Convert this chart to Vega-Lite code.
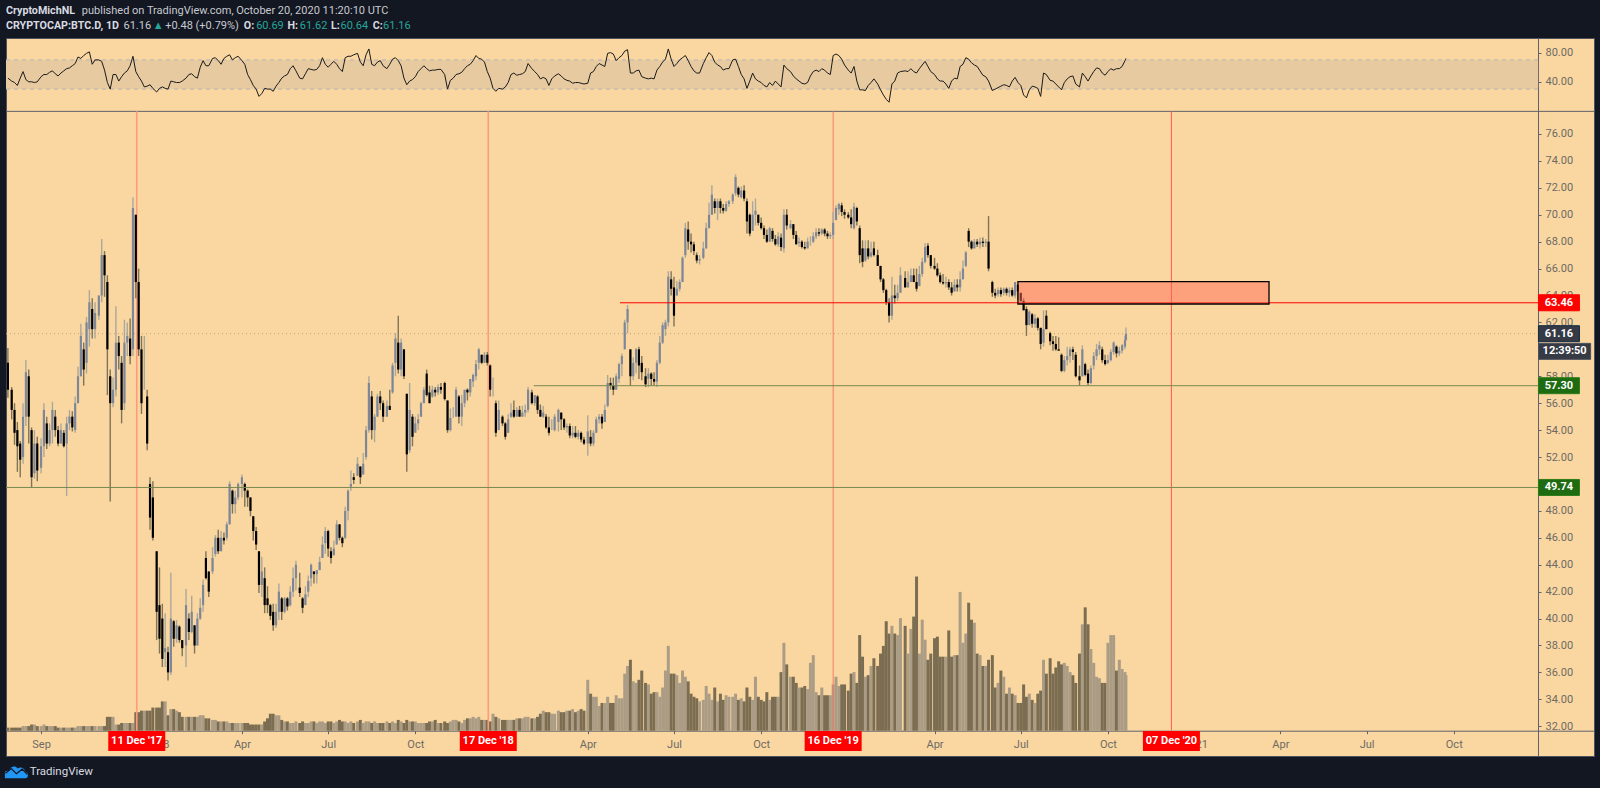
{"$schema":"https://vega.github.io/schema/vega-lite/v6.json","description":"BTC dominance daily chart with RSI and volume","width":1588,"height":718,"autosize":{"type":"none"},"padding":{"left":6,"top":38,"right":6,"bottom":32},"background":"#131722","view":{"fill":"#fad7a0","stroke":"#4c525e"},"config":{"text":{"font":"Roboto"},"axis":{"labelFont":"Roboto","labelFontSize":11,"labelColor":"#6d6a66","domainColor":"#5f626d","tickColor":"#5f626d","tickSize":3,"grid":false,"title":null}},
"datasets":{"rows":[
{"d":"2017-07-28","o":59,"c":57,"h":60.1,"l":56.4,"v":2,"r":45},
{"d":"2017-08-01","o":57,"c":55.5,"h":57.2,"l":54.8,"v":2,"r":41},{"d":"2017-08-04","o":55.5,"c":53.8,"h":56,"l":52.9,"v":2,"r":39},{"d":"2017-08-07","o":54,"c":52.8,"h":54.6,"l":50.9,"v":2,"r":35},{"d":"2017-08-10","o":53,"c":51.8,"h":53.2,"l":50.5,"v":2,"r":45},{"d":"2017-08-13","o":52,"c":55,"h":56,"l":51.5,"v":3,"r":54},{"d":"2017-08-16","o":55,"c":58.3,"h":59.2,"l":54.3,"v":3,"r":43},{"d":"2017-08-19","o":58,"c":55,"h":58.5,"l":53,"v":3,"r":40},{"d":"2017-08-22","o":54,"c":50.5,"h":54.2,"l":49.7,"v":4,"r":40},{"d":"2017-08-25","o":50.8,"c":53,"h":54,"l":50.4,"v":4,"r":39},{"d":"2017-08-28","o":53,"c":51,"h":53.5,"l":50.2,"v":3,"r":40},
{"d":"2017-09-01","o":51.2,"c":52.8,"h":53.4,"l":50.8,"v":3,"r":47},{"d":"2017-09-04","o":52.8,"c":55.5,"h":56,"l":52,"v":4,"r":50},{"d":"2017-09-07","o":54.5,"c":53,"h":55,"l":52.6,"v":3,"r":50},{"d":"2017-09-10","o":53,"c":54,"h":54.5,"l":52.8,"v":3,"r":53},{"d":"2017-09-13","o":54,"c":55.5,"h":56.1,"l":53,"v":3,"r":55},{"d":"2017-09-16","o":55,"c":54,"h":55.5,"l":53.5,"v":3,"r":51},{"d":"2017-09-19","o":54,"c":53,"h":54.3,"l":52.8,"v":2,"r":48},{"d":"2017-09-22","o":53,"c":54,"h":54.5,"l":53,"v":2,"r":52},{"d":"2017-09-25","o":53.8,"c":52.8,"h":54,"l":52.7,"v":2,"r":55},{"d":"2017-09-28","o":53,"c":54.5,"h":55,"l":49.1,"v":2,"r":58},
{"d":"2017-10-01","o":54.5,"c":55,"h":55.5,"l":54,"v":2,"r":59},{"d":"2017-10-04","o":55,"c":54.2,"h":55.4,"l":53.9,"v":2,"r":62},{"d":"2017-10-07","o":54,"c":56,"h":56.5,"l":53.8,"v":2,"r":65},{"d":"2017-10-10","o":56,"c":58,"h":58.7,"l":56,"v":3,"r":74},{"d":"2017-10-13","o":58,"c":61,"h":61.9,"l":58,"v":3,"r":72},{"d":"2017-10-16","o":60,"c":58.5,"h":60.5,"l":57.3,"v":3,"r":76},{"d":"2017-10-19","o":59,"c":62,"h":62.4,"l":58.2,"v":3,"r":79},{"d":"2017-10-22","o":61.5,"c":63.5,"h":64.4,"l":60.2,"v":3,"r":81},{"d":"2017-10-25","o":63,"c":61.5,"h":63.8,"l":60.8,"v":3,"r":64},{"d":"2017-10-28","o":61.5,"c":62.7,"h":63.5,"l":60.8,"v":3,"r":70},
{"d":"2017-11-01","o":62.5,"c":64,"h":64,"l":62.2,"v":3,"r":70},{"d":"2017-11-04","o":64,"c":67,"h":68.2,"l":63.5,"v":3,"r":68},{"d":"2017-11-07","o":67,"c":65.5,"h":67.3,"l":63.9,"v":3,"r":56},{"d":"2017-11-10","o":65,"c":60,"h":65.5,"l":56.6,"v":9,"r":39},{"d":"2017-11-13","o":58,"c":56,"h":58.5,"l":48.7,"v":9,"r":30},{"d":"2017-11-16","o":56,"c":57,"h":57.9,"l":55.7,"v":9,"r":50},{"d":"2017-11-19","o":57,"c":60.5,"h":63.2,"l":56.5,"v":4,"r":50},{"d":"2017-11-22","o":60.5,"c":59.5,"h":61,"l":58.5,"v":4,"r":41},{"d":"2017-11-25","o":59,"c":55.5,"h":59.5,"l":54.5,"v":5,"r":47},{"d":"2017-11-28","o":56,"c":60.5,"h":62.2,"l":55.5,"v":5,"r":52},
{"d":"2017-12-01","o":60.5,"c":61,"h":62,"l":59.5,"v":5,"r":55},{"d":"2017-12-04","o":60.8,"c":59.5,"h":62.3,"l":58.9,"v":5,"r":62},{"d":"2017-12-07","o":60,"c":70.5,"h":71.3,"l":59.5,"v":5,"r":75},{"d":"2017-12-10","o":70,"c":65,"h":70,"l":63.8,"v":12,"r":54},{"d":"2017-12-13","o":65,"c":60,"h":66,"l":59.5,"v":12,"r":47},{"d":"2017-12-16","o":60,"c":56,"h":61,"l":55.2,"v":13,"r":41},{"d":"2017-12-19","o":57.5,"c":57.5,"h":61,"l":57,"v":13,"r":33},{"d":"2017-12-22","o":56.5,"c":53,"h":57,"l":52.5,"v":13,"r":34},{"d":"2017-12-25","o":50,"c":47.5,"h":50.5,"l":46.6,"v":13,"r":36},{"d":"2017-12-28","o":49,"c":46,"h":50.2,"l":45.8,"v":15,"r":31},
{"d":"2018-01-01","o":45,"c":40.5,"h":45,"l":38.4,"v":15,"r":26},{"d":"2018-01-04","o":41,"c":38.5,"h":43.8,"l":37.4,"v":15,"r":31},{"d":"2018-01-07","o":40,"c":37,"h":41.1,"l":36.4,"v":19,"r":33},{"d":"2018-01-10","o":37.5,"c":37.8,"h":40.4,"l":36.4,"v":19,"r":31},{"d":"2018-01-13","o":37.5,"c":36,"h":37.9,"l":35.4,"v":10,"r":30},{"d":"2018-01-16","o":36,"c":40,"h":43.4,"l":35.8,"v":14,"r":41},{"d":"2018-01-19","o":39.8,"c":38.5,"h":39.9,"l":37.9,"v":14,"r":40},{"d":"2018-01-22","o":38.5,"c":39.5,"h":39.9,"l":38.2,"v":13,"r":39},{"d":"2018-01-25","o":39.4,"c":38.4,"h":39.5,"l":38.2,"v":12,"r":39},{"d":"2018-01-28","o":38.4,"c":37.8,"h":38.4,"l":37.2,"v":9,"r":41},
{"d":"2018-02-01","o":38,"c":41,"h":42.2,"l":36.4,"v":9,"r":45},{"d":"2018-02-04","o":40,"c":39,"h":40.4,"l":38.4,"v":9,"r":50},{"d":"2018-02-07","o":39,"c":40.5,"h":41.7,"l":38.9,"v":9,"r":51},{"d":"2018-02-10","o":39.5,"c":38,"h":39.5,"l":37.4,"v":9,"r":47},{"d":"2018-02-13","o":38,"c":40,"h":40.4,"l":38,"v":9,"r":45},{"d":"2018-02-16","o":40,"c":40.8,"h":41.5,"l":39.9,"v":10,"r":60},{"d":"2018-02-19","o":41,"c":42.5,"h":42.9,"l":40.5,"v":10,"r":69},{"d":"2018-02-22","o":44.5,"c":43,"h":45,"l":42.9,"v":8,"r":62},{"d":"2018-02-25","o":43.5,"c":42,"h":43.5,"l":41.6,"v":8,"r":62},
{"d":"2018-03-01","o":43.5,"c":44.5,"h":45.3,"l":43.3,"v":7,"r":72},{"d":"2018-03-04","o":44.8,"c":46,"h":46.2,"l":44.6,"v":7,"r":73},{"d":"2018-03-07","o":46,"c":45,"h":46.6,"l":44.8,"v":6,"r":69},{"d":"2018-03-10","o":45,"c":46,"h":46.5,"l":45,"v":6,"r":64},{"d":"2018-03-13","o":46,"c":45.8,"h":46.4,"l":45.5,"v":6,"r":72},{"d":"2018-03-16","o":46,"c":47,"h":47.2,"l":45.8,"v":6,"r":75},{"d":"2018-03-19","o":47,"c":50,"h":50.2,"l":47,"v":5,"r":77},{"d":"2018-03-22","o":49.5,"c":48.5,"h":49.6,"l":47.8,"v":5,"r":70},{"d":"2018-03-25","o":48.5,"c":49,"h":49.5,"l":47.8,"v":5,"r":73},{"d":"2018-03-28","o":49,"c":50,"h":50.1,"l":48.8,"v":5,"r":75},
{"d":"2018-04-01","o":50,"c":50.5,"h":50.7,"l":49,"v":5,"r":69},{"d":"2018-04-04","o":50,"c":49.5,"h":50.1,"l":48.3,"v":5,"r":64},{"d":"2018-04-07","o":49.5,"c":49,"h":49.6,"l":48.3,"v":5,"r":50},{"d":"2018-04-10","o":49,"c":48,"h":49,"l":47.6,"v":4,"r":43},{"d":"2018-04-13","o":47.6,"c":46.5,"h":47.6,"l":45.8,"v":4,"r":35},{"d":"2018-04-16","o":46.5,"c":45.5,"h":46.8,"l":45.1,"v":4,"r":30},{"d":"2018-04-19","o":45,"c":42.5,"h":45,"l":41.9,"v":4,"r":20},{"d":"2018-04-22","o":42.5,"c":43.5,"h":44.6,"l":41.6,"v":4,"r":24},{"d":"2018-04-25","o":43,"c":41,"h":43.8,"l":40.4,"v":6,"r":31},{"d":"2018-04-28","o":41.5,"c":41,"h":42.4,"l":40.4,"v":8,"r":30},
{"d":"2018-05-01","o":41,"c":40.2,"h":41.1,"l":39.9,"v":11,"r":30},{"d":"2018-05-04","o":40.5,"c":39.5,"h":41.1,"l":39.1,"v":11,"r":27},{"d":"2018-05-07","o":39.5,"c":40.5,"h":41.1,"l":39.3,"v":10,"r":34},{"d":"2018-05-10","o":40.5,"c":42,"h":42.6,"l":39.9,"v":10,"r":39},{"d":"2018-05-13","o":41.5,"c":40.5,"h":41.6,"l":39.9,"v":7,"r":45},{"d":"2018-05-16","o":40.5,"c":41.5,"h":41.6,"l":40.4,"v":6,"r":48},{"d":"2018-05-19","o":41.5,"c":40.9,"h":41.6,"l":40.6,"v":6,"r":50},{"d":"2018-05-22","o":41,"c":42,"h":42.4,"l":40.9,"v":5,"r":58},{"d":"2018-05-25","o":42,"c":43,"h":43.8,"l":41.6,"v":5,"r":62},{"d":"2018-05-28","o":43,"c":44,"h":44.3,"l":42.1,"v":6,"r":55},
{"d":"2018-06-01","o":42.3,"c":41.9,"h":43.4,"l":41.6,"v":5,"r":45},{"d":"2018-06-04","o":41.5,"c":40.8,"h":41.6,"l":40.4,"v":6,"r":44},{"d":"2018-06-07","o":41,"c":41.8,"h":42.4,"l":41,"v":5,"r":51},{"d":"2018-06-10","o":42,"c":42.8,"h":43.2,"l":41.6,"v":5,"r":58},{"d":"2018-06-13","o":43,"c":44,"h":44.1,"l":42.4,"v":6,"r":57},{"d":"2018-06-16","o":43.5,"c":43.3,"h":43.5,"l":42.6,"v":6,"r":56},{"d":"2018-06-19","o":43.3,"c":43.6,"h":43.6,"l":42.6,"v":5,"r":57},{"d":"2018-06-22","o":43.6,"c":44.2,"h":44.6,"l":43.6,"v":6,"r":62},{"d":"2018-06-25","o":44.5,"c":45.5,"h":46.1,"l":44.5,"v":6,"r":73},{"d":"2018-06-28","o":45.6,"c":46.5,"h":46.8,"l":44.8,"v":5,"r":64},
{"d":"2018-07-01","o":46.5,"c":45.2,"h":46.6,"l":44.6,"v":6,"r":60},{"d":"2018-07-04","o":45,"c":44.5,"h":45.3,"l":44.1,"v":6,"r":64},{"d":"2018-07-07","o":44.7,"c":45.2,"h":45.8,"l":44.7,"v":5,"r":68},{"d":"2018-07-10","o":45.5,"c":47,"h":47.3,"l":45.5,"v":6,"r":64},{"d":"2018-07-13","o":47,"c":46,"h":47,"l":45.8,"v":7,"r":58},{"d":"2018-07-16","o":46,"c":45.6,"h":46.1,"l":45.3,"v":6,"r":54},{"d":"2018-07-19","o":46,"c":48,"h":48.3,"l":45.9,"v":6,"r":73},{"d":"2018-07-22","o":48,"c":49.5,"h":49.6,"l":47.3,"v":5,"r":75},{"d":"2018-07-25","o":49.8,"c":50,"h":51,"l":49.5,"v":6,"r":75},{"d":"2018-07-28","o":50.5,"c":50.3,"h":50.8,"l":50,"v":5,"r":77},
{"d":"2018-08-01","o":50.6,"c":51.5,"h":52,"l":50.8,"v":6,"r":79},{"d":"2018-08-04","o":51.3,"c":50.5,"h":51.3,"l":50,"v":7,"r":67},{"d":"2018-08-07","o":50.7,"c":51.5,"h":52.3,"l":50.7,"v":5,"r":62},{"d":"2018-08-10","o":52,"c":54,"h":54.3,"l":51.8,"v":6,"r":77},{"d":"2018-08-13","o":54,"c":57.5,"h":58,"l":53.8,"v":6,"r":85},{"d":"2018-08-16","o":56.5,"c":54,"h":56.9,"l":53.3,"v":5,"r":64},{"d":"2018-08-19","o":54,"c":55,"h":55.2,"l":53.1,"v":6,"r":62},{"d":"2018-08-22","o":55,"c":56.5,"h":56.7,"l":55,"v":5,"r":67},{"d":"2018-08-25","o":56.5,"c":56,"h":56.9,"l":55.5,"v":5,"r":69},{"d":"2018-08-28","o":56,"c":55,"h":56.2,"l":54.6,"v":5,"r":62},
{"d":"2018-09-01","o":55,"c":55.8,"h":56.2,"l":55,"v":6,"r":58},{"d":"2018-09-04","o":55.8,"c":55.5,"h":57,"l":55.5,"v":5,"r":64},{"d":"2018-09-07","o":56.8,"c":58.8,"h":59,"l":56.7,"v":6,"r":71},{"d":"2018-09-10","o":59,"c":60.8,"h":61.2,"l":58,"v":5,"r":73},{"d":"2018-09-13","o":60.5,"c":58.5,"h":62.5,"l":58.2,"v":7,"r":69},{"d":"2018-09-16","o":58.5,"c":60.5,"h":60.8,"l":58,"v":6,"r":62},{"d":"2018-09-19","o":60,"c":58,"h":60,"l":57.8,"v":5,"r":45},{"d":"2018-09-22","o":56.7,"c":52.2,"h":56.7,"l":50.9,"v":7,"r":36},{"d":"2018-09-25","o":52.5,"c":55.5,"h":57.5,"l":52.3,"v":6,"r":41},{"d":"2018-09-28","o":55,"c":53.5,"h":55.2,"l":52.8,"v":6,"r":43},
{"d":"2018-10-01","o":53.8,"c":54.5,"h":55,"l":54,"v":6,"r":47},{"d":"2018-10-04","o":54.5,"c":54.8,"h":55.2,"l":54,"v":5,"r":54},{"d":"2018-10-07","o":55,"c":56,"h":56.1,"l":55,"v":5,"r":58},{"d":"2018-10-10","o":56,"c":57,"h":57.2,"l":56,"v":5,"r":62},{"d":"2018-10-13","o":58.2,"c":56.6,"h":58.5,"l":56.5,"v":5,"r":58},{"d":"2018-10-16","o":56.8,"c":56,"h":57.3,"l":56,"v":6,"r":55},{"d":"2018-10-19","o":56.5,"c":57,"h":57.3,"l":56.4,"v":6,"r":56},{"d":"2018-10-22","o":57,"c":56.8,"h":57.2,"l":56.5,"v":7,"r":56},{"d":"2018-10-25","o":56.8,"c":57.2,"h":57.4,"l":56.6,"v":5,"r":57},{"d":"2018-10-28","o":57.2,"c":57,"h":57.5,"l":56.7,"v":5,"r":57},
{"d":"2018-11-01","o":57.5,"c":56.3,"h":57.6,"l":56.2,"v":6,"r":50},{"d":"2018-11-04","o":56.2,"c":54,"h":56.2,"l":53.8,"v":5,"r":30},{"d":"2018-11-07","o":54,"c":54.9,"h":55.6,"l":53.9,"v":6,"r":42},{"d":"2018-11-10","o":55,"c":55,"h":55.7,"l":54.9,"v":7,"r":45},{"d":"2018-11-13","o":55,"c":57,"h":57.2,"l":55,"v":7,"r":50},{"d":"2018-11-16","o":56.5,"c":55,"h":56.6,"l":54.5,"v":6,"r":51},{"d":"2018-11-19","o":55,"c":56,"h":56.6,"l":54.3,"v":5,"r":53},{"d":"2018-11-22","o":56,"c":57,"h":57,"l":55.7,"v":7,"r":58},{"d":"2018-11-25","o":57,"c":56.8,"h":57.1,"l":56.2,"v":8,"r":62},{"d":"2018-11-28","o":56.8,"c":57.8,"h":57.8,"l":56.5,"v":8,"r":64},
{"d":"2018-12-01","o":57.6,"c":58.1,"h":58.2,"l":57.2,"v":9,"r":69},{"d":"2018-12-04","o":58,"c":58.9,"h":59.2,"l":57.7,"v":8,"r":76},{"d":"2018-12-07","o":59,"c":60,"h":60.1,"l":58.5,"v":9,"r":72},{"d":"2018-12-10","o":59.6,"c":59,"h":59.6,"l":58.9,"v":7,"r":71},{"d":"2018-12-13","o":59,"c":59.6,"h":59.8,"l":59,"v":7,"r":67},{"d":"2018-12-16","o":59.6,"c":59,"h":59.8,"l":58.8,"v":7,"r":54},{"d":"2018-12-19","o":58.8,"c":57,"h":58.9,"l":56.5,"v":6,"r":45},{"d":"2018-12-22","o":57,"c":57,"h":57.9,"l":56.5,"v":11,"r":31},{"d":"2018-12-25","o":56,"c":53.8,"h":56.2,"l":53.5,"v":9,"r":27},{"d":"2018-12-28","o":54,"c":55.5,"h":56.2,"l":54,"v":8,"r":31},
{"d":"2019-01-01","o":55,"c":54.5,"h":55.1,"l":54.3,"v":7,"r":30},{"d":"2019-01-04","o":54.5,"c":53.5,"h":54.6,"l":53.3,"v":7,"r":33},{"d":"2019-01-07","o":53.8,"c":54.8,"h":55.2,"l":53.8,"v":7,"r":39},{"d":"2019-01-10","o":55,"c":55.3,"h":56,"l":54.9,"v":7,"r":50},{"d":"2019-01-13","o":55.5,"c":55,"h":56.2,"l":54.9,"v":7,"r":52},{"d":"2019-01-16","o":55,"c":55.5,"h":55.7,"l":55,"v":8,"r":49},{"d":"2019-01-19","o":55.5,"c":55,"h":55.8,"l":55,"v":8,"r":50},{"d":"2019-01-22","o":55,"c":55.3,"h":55.8,"l":55,"v":8,"r":51},{"d":"2019-01-25","o":55.3,"c":55.5,"h":55.9,"l":55,"v":9,"r":54},{"d":"2019-01-28","o":55.5,"c":57,"h":57.2,"l":55.3,"v":9,"r":65},
{"d":"2019-02-01","o":56.8,"c":56,"h":57,"l":55.9,"v":8,"r":58},{"d":"2019-02-04","o":56,"c":56.6,"h":56.6,"l":55.8,"v":8,"r":54},{"d":"2019-02-07","o":56.5,"c":55.5,"h":56.6,"l":55.2,"v":9,"r":50},{"d":"2019-02-10","o":55.5,"c":55,"h":55.9,"l":55,"v":11,"r":44},{"d":"2019-02-13","o":55,"c":55.3,"h":55.8,"l":54.9,"v":13,"r":46},{"d":"2019-02-16","o":55,"c":54.2,"h":55.2,"l":54.1,"v":12,"r":44},{"d":"2019-02-19","o":54.2,"c":53.8,"h":55,"l":53.6,"v":12,"r":35},{"d":"2019-02-22","o":54,"c":54,"h":54.8,"l":54,"v":11,"r":44},{"d":"2019-02-25","o":54,"c":55,"h":55.2,"l":53.9,"v":11,"r":48},
{"d":"2019-03-01","o":54.6,"c":55.5,"h":55.6,"l":53.9,"v":13,"r":51},{"d":"2019-03-04","o":55.3,"c":54.8,"h":55.3,"l":54,"v":12,"r":48},{"d":"2019-03-07","o":54.8,"c":54.2,"h":54.9,"l":54,"v":12,"r":44},{"d":"2019-03-10","o":54.2,"c":54.3,"h":54.5,"l":53.8,"v":13,"r":42},{"d":"2019-03-13","o":54.3,"c":53.6,"h":54.5,"l":53.4,"v":13,"r":41},{"d":"2019-03-16","o":53.6,"c":53.8,"h":54.3,"l":53.4,"v":14,"r":38},{"d":"2019-03-19","o":53.8,"c":53.5,"h":54.3,"l":53.4,"v":12,"r":39},{"d":"2019-03-22","o":53.5,"c":53.8,"h":54,"l":53.3,"v":13,"r":39},{"d":"2019-03-25","o":53.8,"c":53.3,"h":53.9,"l":53.1,"v":14,"r":38},{"d":"2019-03-28","o":53.3,"c":53,"h":53.5,"l":52.9,"v":13,"r":37},
{"d":"2019-04-01","o":53,"c":53.9,"h":55.1,"l":52.1,"v":33,"r":38},{"d":"2019-04-04","o":53.5,"c":53,"h":54,"l":52.8,"v":24,"r":52},{"d":"2019-04-07","o":53,"c":53.8,"h":54,"l":52.8,"v":22,"r":54},{"d":"2019-04-10","o":53.8,"c":54.8,"h":55,"l":53.8,"v":22,"r":61},{"d":"2019-04-13","o":54.8,"c":55,"h":55.2,"l":54.5,"v":16,"r":65},{"d":"2019-04-16","o":55,"c":54.5,"h":55.2,"l":54.1,"v":18,"r":63},{"d":"2019-04-19","o":54.6,"c":55.5,"h":55.9,"l":54.6,"v":18,"r":61},{"d":"2019-04-22","o":55.8,"c":57.5,"h":58.1,"l":55.7,"v":22,"r":79},{"d":"2019-04-25","o":57.5,"c":57.3,"h":57.9,"l":57,"v":18,"r":80},{"d":"2019-04-28","o":57.3,"c":57,"h":57.9,"l":56.6,"v":18,"r":78},
{"d":"2019-05-01","o":57,"c":58,"h":58.2,"l":57,"v":23,"r":69},{"d":"2019-05-04","o":57.8,"c":58.9,"h":59,"l":57.5,"v":21,"r":73},{"d":"2019-05-07","o":58.9,"c":59.5,"h":59.7,"l":58,"v":21,"r":76},{"d":"2019-05-10","o":60,"c":62,"h":62.2,"l":60,"v":37,"r":82},{"d":"2019-05-13","o":62,"c":63,"h":63.3,"l":61.2,"v":42,"r":84},{"d":"2019-05-16","o":60,"c":58,"h":60,"l":57.3,"v":46,"r":52},{"d":"2019-05-19","o":58,"c":59,"h":59.4,"l":57.7,"v":32,"r":52},{"d":"2019-05-22","o":59,"c":60,"h":60.1,"l":58.2,"v":31,"r":55},{"d":"2019-05-25","o":60,"c":58.8,"h":60.2,"l":57.8,"v":33,"r":56},{"d":"2019-05-28","o":59,"c":58.3,"h":59.5,"l":57.7,"v":39,"r":47},
{"d":"2019-06-01","o":58,"c":57.4,"h":58.6,"l":57.2,"v":31,"r":45},{"d":"2019-06-04","o":57.8,"c":58.2,"h":58.6,"l":57.2,"v":30,"r":44},{"d":"2019-06-07","o":58.2,"c":57.8,"h":58.3,"l":57.3,"v":24,"r":45},{"d":"2019-06-10","o":57.8,"c":57.6,"h":58.3,"l":57.3,"v":25,"r":44},{"d":"2019-06-13","o":57.6,"c":59,"h":59.2,"l":57.2,"v":25,"r":56},{"d":"2019-06-16","o":59,"c":60.5,"h":61,"l":58.9,"v":22,"r":61},{"d":"2019-06-19","o":60.5,"c":61.8,"h":62,"l":60.4,"v":28,"r":67},{"d":"2019-06-22","o":61.5,"c":62,"h":62.2,"l":61,"v":39,"r":71},{"d":"2019-06-25","o":62,"c":65.4,"h":65.8,"l":61.7,"v":55,"r":85},{"d":"2019-06-28","o":65.2,"c":64.5,"h":65.8,"l":64,"v":37,"r":71},
{"d":"2019-07-01","o":64.6,"c":62.5,"h":65.4,"l":61.7,"v":37,"r":61},{"d":"2019-07-04","o":64,"c":64.5,"h":65.1,"l":64,"v":36,"r":65},{"d":"2019-07-07","o":64.5,"c":65,"h":65.2,"l":64.3,"v":31,"r":70},{"d":"2019-07-10","o":65,"c":66.8,"h":66.9,"l":65,"v":39,"r":73},{"d":"2019-07-13","o":67,"c":69,"h":69.4,"l":66.8,"v":35,"r":76},{"d":"2019-07-16","o":68.9,"c":68,"h":69.5,"l":67.4,"v":32,"r":69},{"d":"2019-07-19","o":68,"c":67.8,"h":68.6,"l":67.2,"v":24,"r":61},{"d":"2019-07-22","o":67.8,"c":67.3,"h":68,"l":67,"v":22,"r":55},{"d":"2019-07-25","o":67,"c":66.6,"h":67.2,"l":66.4,"v":21,"r":52},{"d":"2019-07-28","o":66.6,"c":66.7,"h":67,"l":66.3,"v":19,"r":52},
{"d":"2019-08-01","o":66.8,"c":67.5,"h":68,"l":66.7,"v":20,"r":65},{"d":"2019-08-04","o":67.5,"c":69,"h":69.4,"l":67.5,"v":29,"r":73},{"d":"2019-08-07","o":69,"c":70,"h":70.9,"l":69,"v":24,"r":80},{"d":"2019-08-10","o":70,"c":71.5,"h":72.2,"l":70,"v":20,"r":76},{"d":"2019-08-13","o":71,"c":70.5,"h":71.2,"l":70.1,"v":28,"r":67},{"d":"2019-08-16","o":70.5,"c":71,"h":71.2,"l":69.6,"v":19,"r":63},{"d":"2019-08-19","o":71,"c":70.5,"h":71.2,"l":70.1,"v":24,"r":61},{"d":"2019-08-22","o":70.5,"c":70.3,"h":70.8,"l":70.1,"v":20,"r":56},{"d":"2019-08-25","o":70.3,"c":70.8,"h":71,"l":70.2,"v":23,"r":58},{"d":"2019-08-28","o":70.8,"c":71,"h":71.1,"l":70.6,"v":22,"r":58},
{"d":"2019-09-01","o":71,"c":71.5,"h":71.6,"l":70.8,"v":22,"r":70},{"d":"2019-09-04","o":71.6,"c":72.8,"h":73,"l":71.4,"v":24,"r":71},{"d":"2019-09-07","o":72,"c":71.5,"h":72.1,"l":71.3,"v":20,"r":61},{"d":"2019-09-10","o":71.3,"c":71.8,"h":72.1,"l":71.2,"v":21,"r":50},{"d":"2019-09-13","o":71.8,"c":71.2,"h":72.2,"l":71,"v":19,"r":44},{"d":"2019-09-16","o":71,"c":69.5,"h":71.2,"l":68.6,"v":28,"r":31},{"d":"2019-09-19","o":70,"c":68.6,"h":70.1,"l":68.4,"v":22,"r":41},{"d":"2019-09-22","o":68.8,"c":70,"h":71,"l":68.8,"v":20,"r":52},{"d":"2019-09-25","o":70,"c":70.3,"h":71.2,"l":69.2,"v":35,"r":44},{"d":"2019-09-28","o":70,"c":69.4,"h":70,"l":69.2,"v":22,"r":41},
{"d":"2019-10-01","o":69.4,"c":69,"h":69.8,"l":68.9,"v":20,"r":39},{"d":"2019-10-04","o":69,"c":68.5,"h":69.2,"l":68.2,"v":19,"r":35},{"d":"2019-10-07","o":68.5,"c":68,"h":68.9,"l":67.9,"v":25,"r":33},{"d":"2019-10-10","o":68,"c":69,"h":69.1,"l":68,"v":20,"r":39},{"d":"2019-10-13","o":68.8,"c":68.2,"h":69,"l":68,"v":22,"r":35},{"d":"2019-10-16","o":68.2,"c":67.8,"h":68.5,"l":67.7,"v":22,"r":41},{"d":"2019-10-19","o":67.8,"c":68.4,"h":68.7,"l":67.6,"v":22,"r":37},{"d":"2019-10-22","o":68.3,"c":67.6,"h":68.6,"l":67.3,"v":38,"r":33},{"d":"2019-10-25","o":67.5,"c":70,"h":70.4,"l":67.2,"v":57,"r":63},{"d":"2019-10-28","o":70,"c":69.2,"h":70.4,"l":68.9,"v":43,"r":58},
{"d":"2019-11-01","o":69,"c":69.3,"h":69.6,"l":68.9,"v":35,"r":54},{"d":"2019-11-04","o":69.3,"c":68.5,"h":69.3,"l":68.2,"v":35,"r":48},{"d":"2019-11-07","o":68.5,"c":67.8,"h":68.8,"l":67.8,"v":31,"r":44},{"d":"2019-11-10","o":67.9,"c":68,"h":68.3,"l":67.6,"v":28,"r":41},{"d":"2019-11-13","o":68,"c":67.6,"h":68.1,"l":67.5,"v":28,"r":38},{"d":"2019-11-16","o":67.6,"c":67.5,"h":68,"l":67.4,"v":29,"r":37},{"d":"2019-11-19","o":67.5,"c":68,"h":68.3,"l":67.5,"v":27,"r":39},{"d":"2019-11-22","o":68,"c":68,"h":68.4,"l":67.7,"v":44,"r":48},{"d":"2019-11-25","o":68,"c":68.4,"h":68.7,"l":67.9,"v":49,"r":54},{"d":"2019-11-28","o":68.4,"c":68.7,"h":69,"l":68.2,"v":25,"r":56},
{"d":"2019-12-01","o":68.7,"c":68.6,"h":69,"l":68.4,"v":23,"r":54},{"d":"2019-12-04","o":68.6,"c":68.9,"h":69,"l":68.5,"v":28,"r":58},{"d":"2019-12-07","o":68.9,"c":68.6,"h":69,"l":68.4,"v":23,"r":56},{"d":"2019-12-10","o":68.6,"c":68.4,"h":68.8,"l":68.2,"v":23,"r":52},{"d":"2019-12-13","o":68.4,"c":68.5,"h":68.7,"l":68.2,"v":23,"r":50},{"d":"2019-12-16","o":68.5,"c":69.4,"h":70.2,"l":68.2,"v":30,"r":76},{"d":"2019-12-19","o":69.6,"c":70.5,"h":70.7,"l":69.6,"v":35,"r":78},{"d":"2019-12-22","o":70.4,"c":70.8,"h":70.9,"l":70,"v":29,"r":76},{"d":"2019-12-25","o":70.7,"c":70.2,"h":70.9,"l":69.9,"v":30,"r":71},{"d":"2019-12-28","o":70.2,"c":70,"h":70.4,"l":69.7,"v":30,"r":63},
{"d":"2020-01-01","o":70,"c":69.8,"h":70.2,"l":69.7,"v":26,"r":56},{"d":"2020-01-04","o":69.8,"c":69.3,"h":70.4,"l":69,"v":37,"r":52},{"d":"2020-01-07","o":69,"c":70.6,"h":70.9,"l":68.9,"v":38,"r":61},{"d":"2020-01-10","o":70.5,"c":69.5,"h":70.6,"l":69.2,"v":31,"r":41},{"d":"2020-01-13","o":69,"c":67,"h":69.2,"l":66.4,"v":62,"r":29},{"d":"2020-01-16","o":67.5,"c":66.5,"h":68.1,"l":66.1,"v":48,"r":29},{"d":"2020-01-19","o":66.6,"c":67.5,"h":68.1,"l":66.5,"v":35,"r":28},{"d":"2020-01-22","o":67.5,"c":66.9,"h":68.1,"l":66.7,"v":36,"r":35},{"d":"2020-01-25","o":66.9,"c":67.2,"h":68,"l":66.8,"v":42,"r":39},{"d":"2020-01-28","o":67.5,"c":67,"h":68,"l":66.9,"v":47,"r":44},
{"d":"2020-02-01","o":67,"c":66.2,"h":67.4,"l":66.2,"v":42,"r":37},{"d":"2020-02-04","o":66.2,"c":65.2,"h":66.2,"l":65,"v":50,"r":29},{"d":"2020-02-07","o":65.2,"c":64.4,"h":65.3,"l":64.2,"v":55,"r":22},{"d":"2020-02-10","o":64.4,"c":63.5,"h":64.5,"l":63.3,"v":71,"r":16},{"d":"2020-02-13","o":63.5,"c":62.5,"h":63.8,"l":62,"v":63,"r":12},{"d":"2020-02-16","o":62.5,"c":64,"h":65.4,"l":62.2,"v":68,"r":37},{"d":"2020-02-19","o":64,"c":63.8,"h":64.8,"l":63.4,"v":63,"r":41},{"d":"2020-02-22","o":63.8,"c":64.2,"h":64.8,"l":63.6,"v":62,"r":52},{"d":"2020-02-25","o":64.2,"c":65.5,"h":66.1,"l":64.2,"v":73,"r":54},
{"d":"2020-03-01","o":65.3,"c":64.6,"h":65.8,"l":64.6,"v":68,"r":55},{"d":"2020-03-04","o":64.6,"c":65,"h":65.8,"l":64.6,"v":50,"r":54},{"d":"2020-03-07","o":65,"c":65.5,"h":66,"l":65,"v":66,"r":58},{"d":"2020-03-10","o":65.5,"c":65,"h":66,"l":65,"v":74,"r":54},{"d":"2020-03-13","o":65,"c":64.5,"h":66,"l":64.3,"v":100,"r":52},{"d":"2020-03-16","o":64.7,"c":65.6,"h":66.2,"l":64.7,"v":50,"r":58},{"d":"2020-03-19","o":65.6,"c":66.5,"h":66.8,"l":65.4,"v":72,"r":63},{"d":"2020-03-22","o":66.5,"c":67.6,"h":67.9,"l":66.4,"v":59,"r":68},{"d":"2020-03-25","o":67.7,"c":67,"h":67.9,"l":66.8,"v":46,"r":61},{"d":"2020-03-28","o":67,"c":66.2,"h":67,"l":66,"v":50,"r":54},
{"d":"2020-04-01","o":66.2,"c":66,"h":66.8,"l":65.9,"v":60,"r":50},{"d":"2020-04-04","o":66,"c":65.5,"h":66.4,"l":65.4,"v":61,"r":44},{"d":"2020-04-07","o":65.5,"c":65,"h":65.7,"l":64.9,"v":48,"r":41},{"d":"2020-04-10","o":65,"c":64.9,"h":65.6,"l":64.8,"v":48,"r":41},{"d":"2020-04-13","o":64.9,"c":65,"h":65.4,"l":64.6,"v":48,"r":37},{"d":"2020-04-16","o":65,"c":64.6,"h":65.2,"l":64.4,"v":65,"r":31},{"d":"2020-04-19","o":64.6,"c":64.2,"h":65,"l":64,"v":48,"r":41},{"d":"2020-04-22","o":64.3,"c":64.8,"h":65.2,"l":64.3,"v":49,"r":45},{"d":"2020-04-25","o":64.8,"c":64.6,"h":65.2,"l":64.3,"v":49,"r":44},{"d":"2020-04-28","o":64.6,"c":65.2,"h":65.8,"l":64.3,"v":90,"r":61},
{"d":"2020-05-01","o":65.2,"c":66,"h":66.6,"l":65.2,"v":57,"r":64},{"d":"2020-05-04","o":66.2,"c":67.2,"h":67.3,"l":66.1,"v":63,"r":73},{"d":"2020-05-07","o":68.8,"c":68,"h":69,"l":67.6,"v":83,"r":71},{"d":"2020-05-10","o":68,"c":67.5,"h":68.1,"l":67.4,"v":72,"r":66},{"d":"2020-05-13","o":67.5,"c":68,"h":68.2,"l":67.5,"v":70,"r":63},{"d":"2020-05-16","o":68,"c":67.8,"h":68.2,"l":67.6,"v":50,"r":61},{"d":"2020-05-19","o":67.8,"c":68,"h":68.3,"l":67.5,"v":49,"r":55},{"d":"2020-05-22","o":68,"c":67.9,"h":68.3,"l":67.6,"v":42,"r":49},{"d":"2020-05-25","o":67.9,"c":68,"h":68.2,"l":67.6,"v":42,"r":47},{"d":"2020-05-28","o":68,"c":66,"h":69.9,"l":65.8,"v":46,"r":41},
{"d":"2020-06-01","o":65,"c":64.2,"h":65.1,"l":63.9,"v":49,"r":28},{"d":"2020-06-04","o":64.2,"c":64,"h":64.5,"l":63.8,"v":28,"r":30},{"d":"2020-06-07","o":64.1,"c":64.4,"h":64.6,"l":63.9,"v":31,"r":32},{"d":"2020-06-10","o":64.4,"c":64.1,"h":64.6,"l":63.9,"v":39,"r":34},{"d":"2020-06-13","o":64.2,"c":64.5,"h":64.6,"l":64,"v":35,"r":36},{"d":"2020-06-16","o":64.5,"c":64.2,"h":64.6,"l":64,"v":24,"r":35},{"d":"2020-06-19","o":64.2,"c":64.4,"h":64.6,"l":63.9,"v":28,"r":33},{"d":"2020-06-22","o":64.4,"c":64,"h":64.6,"l":63.9,"v":24,"r":41},{"d":"2020-06-25","o":64,"c":65,"h":65,"l":63.8,"v":23,"r":46},{"d":"2020-06-28","o":64.8,"c":64.3,"h":64.8,"l":63.7,"v":18,"r":39},
{"d":"2020-07-01","o":64.2,"c":63.6,"h":64.2,"l":63.5,"v":18,"r":35},{"d":"2020-07-04","o":63.6,"c":62.9,"h":63.8,"l":62.9,"v":30,"r":22},{"d":"2020-07-07","o":63,"c":61.8,"h":63.2,"l":61,"v":22,"r":18},{"d":"2020-07-10","o":61.8,"c":62.8,"h":62.9,"l":61.8,"v":24,"r":29},{"d":"2020-07-13","o":62.6,"c":61.9,"h":62.7,"l":61.6,"v":20,"r":34},{"d":"2020-07-16","o":61.9,"c":62.3,"h":62.6,"l":61.6,"v":18,"r":33},{"d":"2020-07-19","o":62.3,"c":61.6,"h":62.4,"l":61.4,"v":24,"r":31},{"d":"2020-07-22","o":61.6,"c":60.4,"h":61.6,"l":60,"v":26,"r":20},{"d":"2020-07-25","o":60.5,"c":61.5,"h":62.9,"l":60.2,"v":46,"r":52},{"d":"2020-07-28","o":62.5,"c":61.5,"h":62.9,"l":61.5,"v":37,"r":50},
{"d":"2020-08-01","o":61.2,"c":60.6,"h":61.3,"l":60.3,"v":47,"r":42},{"d":"2020-08-04","o":60.6,"c":60.4,"h":61,"l":59.9,"v":37,"r":41},{"d":"2020-08-07","o":60.4,"c":60,"h":61,"l":59.9,"v":41,"r":37},{"d":"2020-08-10","o":60,"c":59.9,"h":60.9,"l":59.9,"v":45,"r":33},{"d":"2020-08-13","o":59.6,"c":58.4,"h":59.7,"l":58.3,"v":43,"r":29},{"d":"2020-08-16","o":58.4,"c":59.2,"h":59.5,"l":58.3,"v":44,"r":39},{"d":"2020-08-19","o":59.2,"c":59.5,"h":60.2,"l":58.8,"v":42,"r":44},{"d":"2020-08-22","o":59.5,"c":60,"h":60.2,"l":59,"v":38,"r":47},{"d":"2020-08-25","o":60,"c":59.8,"h":60.2,"l":59.2,"v":36,"r":48},{"d":"2020-08-28","o":59.6,"c":58,"h":59.8,"l":57.9,"v":31,"r":37},
{"d":"2020-09-01","o":58,"c":57.7,"h":58.8,"l":57.3,"v":50,"r":33},{"d":"2020-09-04","o":58,"c":60,"h":60.3,"l":58,"v":69,"r":52},{"d":"2020-09-07","o":58.9,"c":58.1,"h":59,"l":58,"v":80,"r":47},{"d":"2020-09-10","o":58.2,"c":57.5,"h":58.5,"l":57.35,"v":69,"r":41},{"d":"2020-09-13","o":57.5,"c":58.6,"h":58.8,"l":57.4,"v":53,"r":48},{"d":"2020-09-16","o":58.8,"c":59.5,"h":59.8,"l":58.5,"v":44,"r":54},{"d":"2020-09-19","o":59.5,"c":60,"h":60.4,"l":59.2,"v":35,"r":59},{"d":"2020-09-22","o":60,"c":60.3,"h":60.6,"l":59.6,"v":34,"r":58},{"d":"2020-09-25","o":60,"c":59.2,"h":60.2,"l":59,"v":31,"r":52},{"d":"2020-09-28","o":59.2,"c":58.9,"h":59.6,"l":58.8,"v":31,"r":49},
{"d":"2020-10-01","o":59,"c":59.2,"h":59.6,"l":58.9,"v":57,"r":54},{"d":"2020-10-04","o":59.2,"c":59.8,"h":60,"l":59.1,"v":62,"r":58},{"d":"2020-10-07","o":59.8,"c":60.5,"h":60.6,"l":59.6,"v":62,"r":56},{"d":"2020-10-10","o":60.2,"c":59.7,"h":60.3,"l":59.4,"v":39,"r":58},{"d":"2020-10-13","o":59.7,"c":59.9,"h":60.2,"l":59.5,"v":46,"r":58},{"d":"2020-10-16","o":59.9,"c":60.3,"h":60.4,"l":59.7,"v":40,"r":61},{"d":"2020-10-19","o":60.2,"c":60.69,"h":61,"l":60,"v":38,"r":69},{"d":"2020-10-20","o":60.69,"c":61.16,"h":61.62,"l":60.64,"v":36,"r":72}
],
"band":[{"d":"2017-07-26","e":"2021-12-29","a":30,"b":70}],
"bandLines":[{"d":"2017-07-26","e":"2021-12-29","a":30},{"d":"2017-07-26","e":"2021-12-29","a":70}],
"cycles":[{"d":"2017-12-11","t":"11 Dec '17","lo":31.67,"hi":77.68,"tagY":30.91},{"d":"2018-12-17","t":"17 Dec '18","lo":31.67,"hi":77.68,"tagY":30.91},{"d":"2019-12-16","t":"16 Dec '19","lo":31.67,"hi":77.68,"tagY":30.91},{"d":"2020-12-07","t":"07 Dec '20","lo":31.67,"hi":77.68,"tagY":30.91}],
"prices":[{"d":"2022-01-20","p":63.46,"t":"63.46","k":"red"},{"d":"2022-01-20","p":61.16,"t":"61.16","k":"last"},{"d":"2022-01-20","p":57.3,"t":"57.30","k":"green"},{"d":"2022-01-20","p":49.74,"t":"49.74","k":"green"}]
},
"encoding":{"x":{"field":"d","type":"temporal","scale":{"type":"utc","domain":["2017-07-26","2022-02-26"],"padding":0,"nice":false},"axis":{"orient":"bottom","offset":-25.3,"values":["2017-09-01","2018-01-01","2018-04-01","2018-07-01","2018-10-01","2019-04-01","2019-07-01","2019-10-01","2020-04-01","2020-07-01","2020-10-01","2021-01-01","2021-04-01","2021-07-01","2021-10-01"],"labelExpr":"utcmonth(datum.value)==0 ? utcFormat(datum.value,'%Y') : utcFormat(datum.value,'%b')","labelPadding":5,"labelFlush":false,"labelOverlap":false,"title":null}}},
"layer":[
{"layer":[
{"data":{"name":"rows"},"mark":{"type":"bar","size":3},"encoding":{"y":{"field":"v","type":"quantitative","scale":{"domain":[0,100],"range":[692.7,538.5]},"axis":null},"color":{"condition":{"test":"datum.c>=datum.o","value":"#ab9c86"},"value":"#7b6d52"}}}
]},
{"layer":[
{"data":{"name":"band"},"mark":{"type":"rect","color":"#e7caa0"},"encoding":{"x2":{"field":"e"},"y":{"field":"a","type":"quantitative","scale":{"domain":[3.95,96.9],"range":[73,0]},"axis":{"orient":"right","offset":-56,"values":[40,80],"format":".2f","labelPadding":4}},"y2":{"field":"b"}}},
{"data":{"name":"bandLines"},"mark":{"type":"rule","color":"#b3b6b8","strokeDash":[4,4],"strokeWidth":1},"encoding":{"x2":{"field":"e"},"y":{"field":"a","type":"quantitative"}}},
{"data":{"name":"rows"},"mark":{"type":"line","color":"#1a1a1a","strokeWidth":1},"encoding":{"y":{"field":"r","type":"quantitative"}}}
]},
{"encoding":{"y":{"field":"p","type":"quantitative","scale":{"domain":[29.79,83.13]},"axis":{"orient":"right","offset":-56,"values":[32,34,36,38,40,42,44,46,48,52,54,56,58,62,64,66,68,70,72,74,76],"format":".2f","labelPadding":4}}},
"layer":[
{"data":{"values":[{"d":"2017-07-26","e":"2022-02-26","p":77.68}]},"mark":{"type":"rule","color":"#5f626d","strokeWidth":1},"encoding":{"x2":{"field":"e"}}},
{"data":{"name":"cycles"},"transform":[{"filter":"year(datum.d)<2019"}],"mark":{"type":"rule","color":"#ff9a7c","strokeWidth":1.6},"encoding":{"y":{"field":"lo","type":"quantitative"},"y2":{"field":"hi"}}},
{"data":{"name":"cycles"},"transform":[{"filter":"datum.t=='16 Dec \\'19'"}],"mark":{"type":"rule","color":"#f57c63","strokeWidth":1},"encoding":{"y":{"field":"lo","type":"quantitative"},"y2":{"field":"hi"}}},
{"data":{"name":"cycles"},"transform":[{"filter":"datum.t=='07 Dec \\'20'"}],"mark":{"type":"rule","color":"#ff5a4a","strokeWidth":1},"encoding":{"y":{"field":"lo","type":"quantitative"},"y2":{"field":"hi"}}},
{"data":{"values":[{"d":"2017-07-26","e":"2021-12-29","p":61.16}]},"mark":{"type":"rule","color":"#bfa37c","strokeDash":[1,3],"strokeWidth":1},"encoding":{"x2":{"field":"e"}}},
{"data":{"name":"rows"},"mark":{"type":"rule","strokeWidth":1.4},"encoding":{"y":{"field":"l","type":"quantitative"},"y2":{"field":"h"},"color":{"condition":{"test":"datum.c>=datum.o","value":"#aaa89e"},"value":"#7f7358"}}},
{"data":{"name":"rows"},"mark":{"type":"bar","size":2.2},"encoding":{"y":{"field":"o","type":"quantitative"},"y2":{"field":"c"},"color":{"condition":{"test":"datum.c>=datum.o","value":"#7d8799"},"value":"#000000"}}},
{"data":{"values":[{"d":"2019-05-05","e":"2021-12-29","p":63.46}]},"mark":{"type":"rule","color":"#ff0000","strokeWidth":1},"encoding":{"x2":{"field":"e"}}},
{"data":{"values":[{"d":"2019-02-03","e":"2021-12-29","p":57.3},{"d":"2017-07-26","e":"2021-12-29","p":49.74}]},"mark":{"type":"rule","color":"#77884f","strokeWidth":1},"encoding":{"x2":{"field":"e"}}},
{"data":{"values":[{"d":"2020-06-28","e":"2021-03-20","p":63.37,"q":65.03}]},"mark":{"type":"rect","fill":"#ff6a58","fillOpacity":0.5,"stroke":"#000000","strokeWidth":1.3},"encoding":{"x2":{"field":"e"},"y2":{"field":"q"}}},
{"data":{"name":"cycles"},"mark":{"type":"rect","color":"#ff0000","width":57,"height":20},"encoding":{"y":{"field":"tagY","type":"quantitative"}}},
{"data":{"name":"cycles"},"mark":{"type":"text","color":"#ffffff","fontWeight":"bold","fontSize":11},"encoding":{"y":{"field":"tagY","type":"quantitative"},"text":{"field":"t"}}},
{"data":{"name":"prices"},"mark":{"type":"rect","width":41,"height":16,"strokeWidth":1},"encoding":{"fill":{"field":"k","scale":{"domain":["red","last","green"],"range":["#ff0000","#363a45","#1e6b12"]},"legend":null},"stroke":{"field":"k","scale":{"domain":["red","last","green"],"range":["#ff0000","#0f2a4a","#2e7d18"]},"legend":null}}},
{"data":{"values":[{"d":"2022-01-26","p":59.85,"t":"12:39:50"}]},"mark":{"type":"rect","width":52,"height":16,"fill":"#363a45","stroke":"#4c525e"}},
{"data":{"name":"prices"},"mark":{"type":"text","color":"#ffffff","fontWeight":"bold","fontSize":11},"encoding":{"text":{"field":"t"}}},
{"data":{"values":[{"d":"2022-01-26","p":59.85,"t":"12:39:50"}]},"mark":{"type":"text","color":"#ffffff","fontWeight":"bold","fontSize":11},"encoding":{"text":{"field":"t"}}},
{"data":{"values":[{"d":"2017-07-26","p":85.13,"t":"CryptoMichNL"},{"d":"2017-07-26","p":84.02,"t":"CRYPTOCAP:BTC.D, 1D"},{"d":"2018-04-03","p":84.02,"t":"O:"},{"d":"2018-05-19","p":84.02,"t":"H:"},{"d":"2018-07-04","p":84.02,"t":"L:"},{"d":"2018-08-17","p":84.02,"t":"C:"}]},"mark":{"type":"text","align":"left","color":"#d9dbe0","fontWeight":"bold","fontSize":10.7}, "encoding":{"text":{"field":"t"}}},
{"data":{"values":[{"d":"2017-10-14","p":85.13,"t":"published on TradingView.com, October 20, 2020 11:20:10 UTC"},{"d":"2017-11-27","p":84.02,"t":"61.16"},{"d":"2018-01-10","p":84.02,"t":"+0.48 (+0.79%)"}]},"mark":{"type":"text","align":"left","color":"#c8cad0","fontSize":11},"encoding":{"text":{"field":"t"}}},
{"data":{"values":[{"d":"2017-12-28","p":84.02,"t":"▲"},{"d":"2018-04-16","p":84.02,"t":"60.69"},{"d":"2018-06-01","p":84.02,"t":"61.62"},{"d":"2018-07-14","p":84.02,"t":"60.64"},{"d":"2018-08-28","p":84.02,"t":"61.16"}]},"mark":{"type":"text","align":"left","color":"#26a69a","fontSize":11},"encoding":{"text":{"field":"t"}}},
{"data":{"values":[{"d":"2017-08-06","p":28.6}]},"mark":{"type":"point","shape":"M-1,0.55 L-1,0.1 C-1,-0.1 -0.8,-0.15 -0.65,-0.1 C-0.5,-0.5 -0.1,-0.6 0.1,-0.3 C0.3,-0.5 0.7,-0.4 0.75,-0.05 C0.95,-0.05 1,0.2 1,0.3 C1,0.5 0.85,0.55 0.7,0.55 Z","size":529,"filled":true,"color":"#2196f3","opacity":1}},
{"data":{"values":[{"d":"2017-08-06","p":28.6}]},"mark":{"type":"point","shape":"M-0.95,0.1 L-0.45,-0.3 L0,0.15 L0.5,-0.25 L0.95,0.2","size":529,"filled":false,"color":"#131722","strokeWidth":1.3,"opacity":1}},
{"data":{"values":[{"d":"2017-08-20","p":28.6,"t":"TradingView"}]},"mark":{"type":"text","align":"left","color":"#d9dbe0","fontSize":11.5},"encoding":{"text":{"field":"t"}}}
]}
],
"resolve":{"scale":{"y":"independent"},"axis":{"y":"independent"}}}
